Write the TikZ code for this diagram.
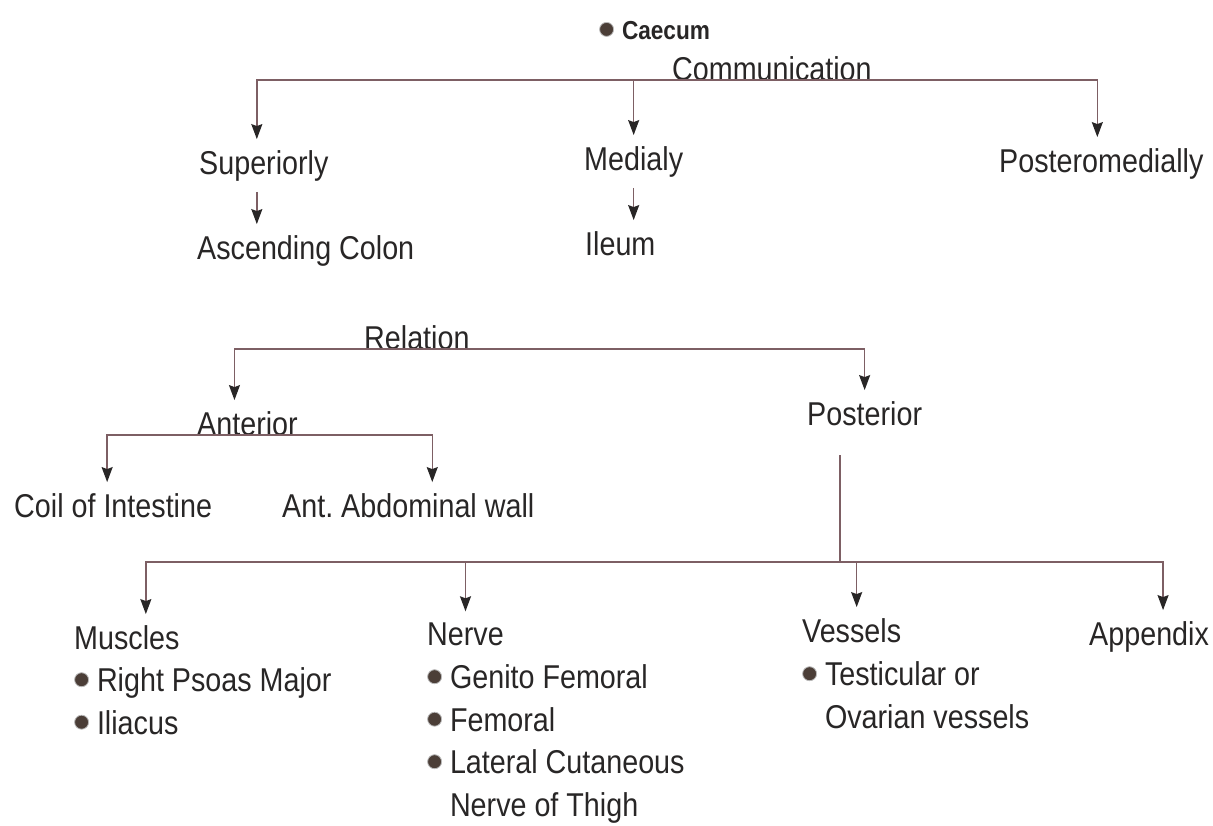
\documentclass[tikz,border=0pt]{standalone}
\usepackage{fontspec}
\setmainfont{Liberation Sans}[FakeStretch=0.87]
\usepackage{tikz}
\usetikzlibrary{arrows.meta}
\definecolor{inkgrey}{RGB}{40,38,38}
\definecolor{linemauve}{RGB}{125,95,100}
\definecolor{dotbrown}{RGB}{75,62,55}
\newcommand{\blt}{\tikz[baseline=-0.7ex]\filldraw[fill=dotbrown, draw=gray!55, line width=0.8pt] (0,0) circle (7pt);\hspace{8pt}}

\begin{document}
\begin{tikzpicture}[
    x=1pt, y=-1pt,
    lbl/.style={anchor=base west, inner sep=2pt, outer ysep=9pt, text=inkgrey,
                font=\fontsize{33}{42.5}\selectfont},
    lst/.style={lbl, anchor=north west, align=left, outer ysep=0pt},
    link/.style={linemauve, line width=1.4pt},
    arrow/.style={link, -{Stealth[length=15pt, width=11pt, inset=2pt, inkgrey]}}
]
\useasboundingbox (0,0) rectangle (1213,825);

% communication
\node[lbl, font=\fontsize{26}{30}\selectfont\bfseries] (caecum) at (597,39) {\blt Caecum};
\node[lbl] (comm) at (670,80) {Communication};
\node[lbl] (sup) at (197,174) {Superiorly};
\node[lbl] (med) at (582,170) {Medialy};
\node[lbl] (pmed) at (997,172) {Posteromedially};
\node[lbl] (asc) at (195,259) {Ascending Colon};
\node[lbl] (ileum) at (583,255) {Ileum};

\draw[arrow] (comm.base) -| ([xshift=-7pt]sup.north);
\draw[arrow] (comm.base) -| (med.north);
\draw[arrow] (comm.base) -| ([xshift=-4pt]pmed.north);
\draw[arrow] ([xshift=-7pt]sup.south) -- ([xshift=-7pt]sup.south |- asc.north);
\draw[arrow] (med.south) -- (med.south |- ileum.north);

% relation
\node[lbl] (rel) at (362,349) {Relation};
\node[lbl] (ant) at (195,435) {Anterior};
\node[lbl] (post) at (805,425) {Posterior};
\node[lbl] (coil) at (12,517) {Coil of Intestine};
\node[lbl] (abd) at (280,517) {Ant.\ Abdominal wall};

\draw[arrow] (rel.base) -| ([xshift=-13pt]ant.north);
\draw[arrow] (rel.base) -| (post.north);
\draw[arrow] (ant.base) -| ([xshift=-6pt]coil.north);
\draw[arrow] (ant.base) -| ([xshift=24pt]abd.north);

% posterior relations
\node[lbl] (musc) at (72,649) {Muscles};
\node[lbl] (nerve) at (425,645) {Nerve};
\node[lbl] (vess) at (800,642) {Vessels};
\node[lbl] (app) at (1087,645) {Appendix};
\node[lst] (musclist) at (72,666) {\blt Right Psoas Major\\\blt Iliacus};
\node[lst] (nervelist) at (425,663) {\blt Genito Femoral\\\blt Femoral\\\blt Lateral Cutaneous\\\hphantom{\blt}Nerve of Thigh};
\node[lst] (vesslist) at (800,660) {\blt Testicular or\\\hphantom{\blt}Ovarian vessels};

\coordinate (stem) at (840,455);
\coordinate (split) at (840,562);
\draw[link] (stem) -- (split);
\draw[arrow] (split) -| ([xshift=19pt]musc.north);
\draw[arrow] (split) -| (nerve.north);
\draw[arrow] (split) -| ([xshift=5pt]vess.north);
\draw[arrow] (split) -| ([xshift=14pt]app.north);
\end{tikzpicture}
\end{document}
